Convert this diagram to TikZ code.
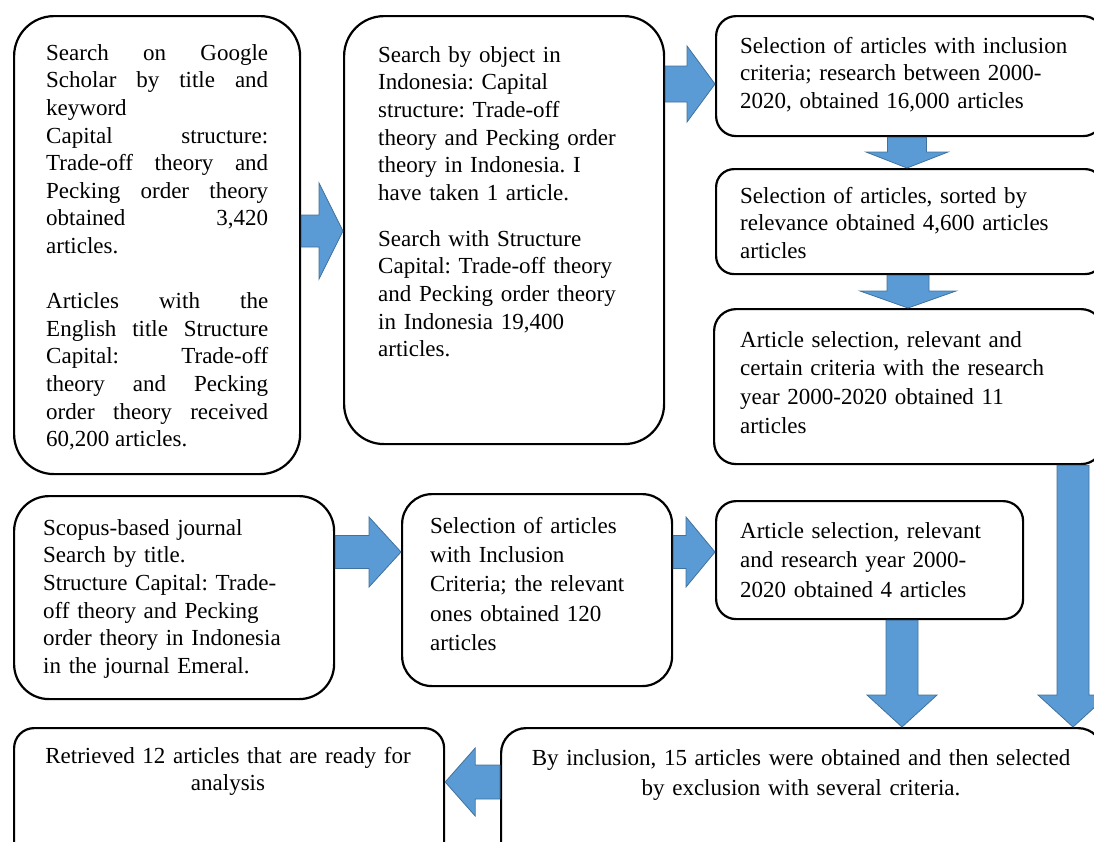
\documentclass[tikz,border=0pt]{standalone}
\usepackage{fontspec}
\setmainfont{Liberation Serif}
\usetikzlibrary{calc}
\definecolor{arrfill}{HTML}{5B9BD5}
\definecolor{arrline}{HTML}{41719C}
\newcommand\boxfont[1][27.6]{\fontsize{23}{#1}\selectfont\frenchspacing\parindent=0pt\tolerance=10000\hbadness=10000\hyphenpenalty=10000}
\tikzstyle{box}=[draw,line width=2.2pt,fill=white,anchor=north west,inner sep=0pt]
\tikzstyle{txt}=[anchor=north west,inner sep=0pt,align=left,font=\boxfont]
\tikzstyle{blockarr}=[fill=arrfill,draw=arrline,line width=0.8pt,line join=miter]
\newcommand{\blockarrow}[5]
{  % #1 = tail , #2 = tip , #3 = half shaft , #4 = half head , #5 = head length
  \coordinate (bah) at ($(#2)!#5!(#1)$);
  \draw[blockarr] ($(#1)!#3!90:(#2)$) -- ($(bah)!#3!90:(#2)$) -- ($(bah)!#4!90:(#2)$)
    -- (#2) -- ($(bah)!#4!-90:(#2)$) -- ($(bah)!#3!-90:(#2)$) -- ($(#1)!#3!-90:(#2)$) -- cycle;
}
\begin{document}
\begin{tikzpicture}[x=1pt,y=-1pt]
  \useasboundingbox (0,0) rectangle (1094,841);
  \clip (0,0) rectangle (1094,841);
  % boxes
  \node[box,rounded corners=40pt,minimum width=286pt,minimum height=458pt] (gs) at (13,15) {};
  \node[box,rounded corners=40pt,minimum width=320pt,minimum height=428pt] (idn) at (343,15) {};
  \node[box,rounded corners=20pt,minimum width=387pt,minimum height=120pt] (inc) at (715,15) {};
  \node[box,rounded corners=18pt,minimum width=387pt,minimum height=105pt] (rel) at (715,168) {};
  \node[box,rounded corners=22pt,minimum width=389pt,minimum height=155pt] (crit) at (713,308) {};
  \node[box,rounded corners=35pt,minimum width=320pt,minimum height=203pt] (scopus) at (13,495) {};
  \node[box,rounded corners=30pt,minimum width=270pt,minimum height=192pt] (sel120) at (401,493) {};
  \node[box,rounded corners=20pt,minimum width=307pt,minimum height=118pt] (sel4) at (715,500) {};
  \node[box,rounded corners=20pt,minimum width=430pt,minimum height=140pt] (ready) at (13,727) {};
  \node[box,rounded corners=25pt,minimum width=602pt,minimum height=140pt] (incl15) at (500,727) {};
  % texts
  \node[txt,align=justify,text width=222pt] (gs-t) at (46,40.7) {\strut Search on Google\linebreak
    Scholar by title and\linebreak keyword\\ Capital structure:\linebreak Trade-off theory and\linebreak
    Pecking order theory\linebreak obtained 3,420\linebreak articles.\\[27.6pt]
    Articles with the\linebreak English title Structure\linebreak Capital: Trade-off\linebreak
    theory and Pecking\linebreak order theory received\linebreak 60,200 articles.};
  \node[txt,text width=290pt] (idn-t) at (378,42.7) {\strut Search by object in\\ Indonesia: Capital\\
    structure: Trade-off\\ theory and Pecking order\\ theory in Indonesia. I\\ have taken 1 article.\\[18.4pt]
    Search with Structure\\ Capital: Trade-off theory\\ and Pecking order theory\\ in Indonesia 19,400\\ articles.};
  \node[txt,text width=350pt] (inc-t) at (740,33.7) {\strut Selection of articles with inclusion\\
    criteria; research between 2000-\\ 2020, obtained 16,000 articles};
  \node[txt,text width=350pt] (rel-t) at (740,183.7) {\strut Selection of articles, sorted by\\
    relevance obtained 4,600 articles\\ articles};
  \node[txt,text width=350pt,font={\boxfont[28.7]}] (crit-t) at (740,326.9) {\strut Article selection, relevant and\\
    certain criteria with the research\\ year 2000-2020 obtained 11\\ articles};
  \node[txt,text width=290pt] (scopus-t) at (43,515.7) {\strut Scopus-based journal\\ Search by title.\\
    Structure Capital: Trade-\\ off theory and Pecking\\ order theory in Indonesia\\ in the journal Emeral.};
  \node[txt,text width=235pt,font={\boxfont[29.3]}] (sel120-t) at (430,512.5) {\strut Selection of articles\\
    with Inclusion\\ Criteria; the relevant\\ ones obtained 120\\ articles};
  \node[txt,text width=280pt,font={\boxfont[29.5]}] (sel4-t) at (740,517.4) {\strut Article selection, relevant\\
    and research year 2000-\\ 2020 obtained 4 articles};
  \node[txt,anchor=north,align=center,text width=410pt,font={\boxfont[27]}] (ready-t) at (228,744.1)
    {\strut Retrieved 12 articles that are ready for\\ analysis};
  \node[txt,anchor=north,align=center,text width=580pt,font={\boxfont[30]}] (incl15-t) at (801,744)
    {\strut By inclusion, 15 articles were obtained and then selected\\ by exclusion with several criteria.};
  % arrows
  \coordinate (a1s) at (gs.east |- 0,231);
  \coordinate (a1e) at (idn.west |- 0,231);
  \coordinate (a2s) at (idn.east |- 0,84);
  \coordinate (a2e) at (inc.west |- 0,84);
  \coordinate (a3s) at (inc.south -| 907,0);
  \coordinate (a3e) at (rel.north -| 907,0);
  \coordinate (a4s) at (rel.south -| 908,0);
  \coordinate (a4e) at (crit.north -| 908,0);
  \coordinate (a5s) at (crit.south -| 1073,0);
  \coordinate (a5e) at (incl15.north -| 1073,0);
  \coordinate (a6s) at (scopus.east |- 0,552);
  \coordinate (a6e) at (sel120.west |- 0,552);
  \coordinate (a7s) at (sel120.east |- 0,552);
  \coordinate (a7e) at (sel4.west |- 0,552);
  \coordinate (a8s) at (sel4.south -| 902,0);
  \coordinate (a8e) at (incl15.north -| 902,0);
  \coordinate (a9s) at (incl15.west |- 0,782);
  \coordinate (a9e) at (ready.east |- 0,782);
  \blockarrow{a1s}{a1e}{16pt}{48pt}{24pt}
  \blockarrow{a2s}{a2e}{18pt}{38pt}{28pt}
  \blockarrow{a3s}{a3e}{19.5pt}{41pt}{16pt}
  \blockarrow{a4s}{a4e}{21pt}{48pt}{17pt}
  \blockarrow{a5s}{a5e}{16pt}{35pt}{32pt}
  \blockarrow{a6s}{a6e}{16.5pt}{35pt}{32pt}
  \blockarrow{a7s}{a7e}{16.5pt}{35pt}{29pt}
  \blockarrow{a8s}{a8e}{16pt}{35pt}{32pt}
  \blockarrow{a9s}{a9e}{17pt}{34pt}{30pt}
\end{tikzpicture}
\end{document}
